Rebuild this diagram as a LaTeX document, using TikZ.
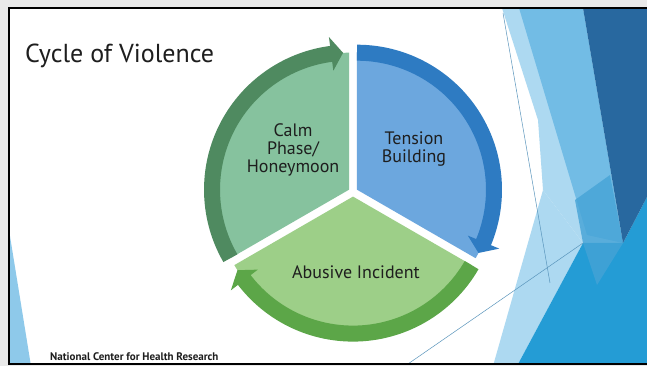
\documentclass[tikz,border=0pt]{standalone}
\usepackage{fontspec}
\setmainfont{PT Sans}
\usepackage{xcolor}
\usetikzlibrary{positioning}
\definecolor{ink}{HTML}{1E1E1E}
\definecolor{paper}{HTML}{E9E9E9}
\definecolor{calmbg}{HTML}{86C29E}
\definecolor{calmarc}{HTML}{4F8A60}
\definecolor{tensbg}{HTML}{6CA7DE}
\definecolor{tensarc}{HTML}{2E7BC2}
\definecolor{abusbg}{HTML}{9DCF88}
\definecolor{abusarc}{HTML}{5CA648}
\definecolor{facetnavy}{HTML}{28689F}
\definecolor{facetlight}{HTML}{72BCE5}
\definecolor{facetmid}{HTML}{45A3D6}
\definecolor{facetpale}{HTML}{ADD9F1}
\definecolor{facetcyan}{HTML}{249CD5}
\definecolor{facetline}{HTML}{5A95BC}

\begin{document}
\begin{tikzpicture}[
  x=1pt, y=1pt,
  phase/.style={font=\fontsize{18}{18}\selectfont, text=ink, align=center, inner sep=0pt},
  band/.style={line width=16pt},
  facet/.style={draw=none},
  thinline/.style={draw=facetline, line width=0.5pt}
]

\def\cx{353}
\def\cy{174}
\def\rr{137}
\def\gap{4.6}

% ---- slide and frame ----------------------------------------------------
\useasboundingbox (0,0) rectangle (647,366);
\fill[paper] (0,0) rectangle (647,366);
\fill[white] (9,2) rectangle (647,358);

% ---- facet background ---------------------------------------------------
\begin{scope}
\clip (9,2) rectangle (647,358);
\fill[facet, facetpale]  (502,358) -- (583,358) -- (623,123) -- (583,123) -- (543,176) -- (538,246) -- cycle;
\fill[facet, facetlight] (519,358) -- (583,358) -- (623,123) -- (587,131) -- cycle;
\fill[facet, facetpale]  (543,176) -- (583,123) -- (517,0) -- (493,0) -- cycle;
\fill[facet, facetcyan]  (517,0) -- (647,0) -- (647,169) -- (623,123) -- (583,123) -- cycle;
\fill[facet, facetmid, opacity=0.8] (575,166) -- (610,191) -- (623,123) -- (597,81) -- (583,123) -- cycle;
\fill[facet, facetnavy]  (583,358) -- (647,358) -- (647,169) -- (623,123) -- cycle;
\fill[facet, facetlight!80!white] (9,136) -- (9,0) -- (31,0) -- cycle;
\draw[thinline] (503,353) -- (550,83);
\draw[thinline] (405,0) -- (583,123);
\end{scope}
\draw[black, line width=1.4pt] (647,358) -- (9,358) -- (9,2) -- (647,2);

% ---- cycle --------------------------------------------------------------
\begin{scope}[shift={(\cx,\cy)}]
  % calm phase
  \begin{scope}[shift={(150:\gap)}]
    \fill[calmbg] (0,0) -- (210:\rr) arc[start angle=210, end angle=90, radius=\rr] -- cycle;
    \draw[band, calmarc] (210:\rr) arc[start angle=210, end angle=97, radius=\rr];
    \fill[calmarc] (97.5:120) -- (92.5:\rr) -- (97.5:154) -- cycle;
  \end{scope}
  % tension building
  \begin{scope}[shift={(30:\gap)}]
    \fill[tensbg] (0,0) -- (90:\rr) arc[start angle=90, end angle=-30, radius=\rr] -- cycle;
    \draw[band, tensarc] (90:\rr) arc[start angle=90, end angle=-23, radius=\rr];
    \fill[tensarc] (-22.5:120) -- (-27.5:\rr) -- (-22.5:154) -- cycle;
  \end{scope}
  % abusive incident
  \begin{scope}[shift={(270:\gap)}]
    \fill[abusbg] (0,0) -- (330:\rr) arc[start angle=330, end angle=210, radius=\rr] -- cycle;
    \draw[band, abusarc] (330:\rr) arc[start angle=330, end angle=217, radius=\rr];
    \fill[abusarc] (217.5:120) -- (212.5:\rr) -- (217.5:154) -- cycle;
  \end{scope}
\end{scope}

% ---- labels -------------------------------------------------------------
\node[phase] (calm) at (293,216) {Calm\\Phase/\\Honeymoon};
\node[phase] (tens) at (414,217) {Tension\\Building};
\node[phase] (abus) at (356,94)  {Abusive Incident};

\node[anchor=base west, inner sep=0pt, font=\fontsize{26}{30}\selectfont, text=ink] (title) at (25,303) {Cycle of Violence};
\node[anchor=base west, inner sep=0pt, font=\bfseries\fontsize{11}{12}\selectfont, text=ink] (source) at (50,5) {National Center for Health Research};

\end{tikzpicture}
\end{document}
